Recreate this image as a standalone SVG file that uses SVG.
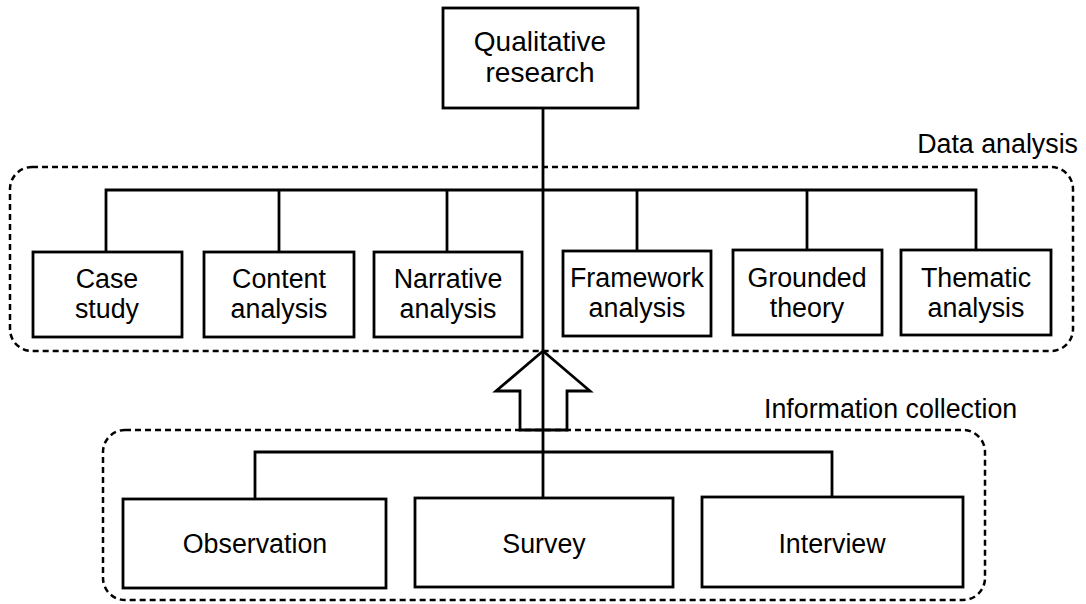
<svg xmlns="http://www.w3.org/2000/svg" width="1086" height="604" viewBox="0 0 1086 604">
<style>
.box{fill:#fff;stroke:#000;stroke-width:2.8}
.grp{fill:none;stroke:#000;stroke-width:2.5;stroke-dasharray:6 4}
.ln{fill:none;stroke:#000;stroke-width:2.8}
text{font-family:"Liberation Sans",Arial,sans-serif;font-size:26.8px;fill:#000;text-anchor:middle}
.lbl{text-anchor:end}
.lbls{text-anchor:start}
</style>
<rect width="1086" height="604" fill="#fff"/>
<g id="group-data-analysis">
<rect class="grp" x="10" y="167" width="1063" height="184" rx="22"/>
<text class="lbl" x="1078" y="153">Data analysis</text>
</g>
<g id="group-information-collection">
<rect class="grp" x="103" y="430" width="882" height="170" rx="22"/>
<text class="lbls" x="764" y="418">Information collection</text>
</g>
<g id="connectors">
<line class="ln" x1="543" y1="108" x2="543" y2="498"/>
<polyline class="ln" points="106,252 106,190 976,190 976,250"/>
<line class="ln" x1="279" y1="190" x2="279" y2="252"/>
<line class="ln" x1="447" y1="190" x2="447" y2="252"/>
<line class="ln" x1="637" y1="190" x2="637" y2="251"/>
<line class="ln" x1="807" y1="190" x2="807" y2="250"/>
<polyline class="ln" points="255,499 255,452 832,452 832,497"/>
<polygon class="ln" points="543,351 590,391 567,391 567,430 520,430 520,391 496,391"/>
</g>
<g id="node-qualitative-research">
<rect class="box" x="443" y="8" width="195" height="100"/>
<text x="540" y="51" style="font-size:28px">Qualitative</text>
<text x="540" y="82" style="font-size:28px">research</text>
</g>
<g id="node-case-study">
<rect class="box" x="33" y="252" width="149" height="85"/>
<text x="107" y="288">Case</text><text x="107" y="318">study</text>
</g>
<g id="node-content-analysis">
<rect class="box" x="204" y="252" width="150" height="85"/>
<text x="279" y="288">Content</text><text x="279" y="318">analysis</text>
</g>
<g id="node-narrative-analysis">
<rect class="box" x="374" y="252" width="148" height="85"/>
<text x="448" y="288">Narrative</text><text x="448" y="318">analysis</text>
</g>
<g id="node-framework-analysis">
<rect class="box" x="563" y="251" width="148" height="85"/>
<text x="637" y="287">Framework</text><text x="637" y="317">analysis</text>
</g>
<g id="node-grounded-theory">
<rect class="box" x="733" y="250" width="149" height="85"/>
<text x="807" y="287">Grounded</text><text x="807" y="317">theory</text>
</g>
<g id="node-thematic-analysis">
<rect class="box" x="901" y="250" width="150" height="85"/>
<text x="976" y="287">Thematic</text><text x="976" y="317">analysis</text>
</g>
<g id="node-observation">
<rect class="box" x="123" y="499" width="263" height="89"/>
<text x="255" y="553">Observation</text>
</g>
<g id="node-survey">
<rect class="box" x="415" y="498" width="258" height="89"/>
<text x="544" y="553">Survey</text>
</g>
<g id="node-interview">
<rect class="box" x="702" y="497" width="261" height="90"/>
<text x="832" y="553">Interview</text>
</g>
</svg>
